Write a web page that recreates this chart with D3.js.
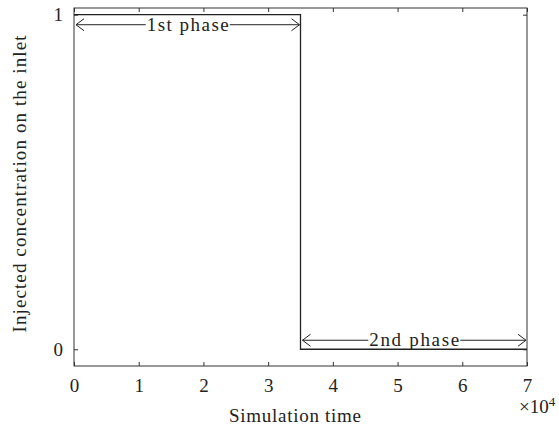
<!DOCTYPE html>
<html><head><meta charset="utf-8">
<script src="https://cdn.jsdelivr.net/npm/d3@7"></script>
<style>
html,body{margin:0;padding:0;background:#fff;}
text{font-family:"Liberation Serif","DejaVu Serif",serif;fill:#222;}
</style></head>
<body><svg id="c" width="559" height="429"></svg>
<script>
// data
const timeValues = [0, 35000, 35000, 70000];
const concValues = [1, 1, 0, 0];
const xTicks = [0, 10000, 20000, 30000, 40000, 50000, 60000, 70000];
const xTickLabels = ["0","1","2","3","4","5","6","7"];
const yTicks = [0, 1];
const yTickLabels = ["0","1"];
const phaseNames = ["1st phase", "2nd phase"];
const phaseStart = [0, 35000];
const phaseEnd = [35000, 70000];
const phaseLevel = [0.97, 0.027];

const svg = d3.select("#c");
const L = 74, R = 527, T = 8, B = 366;
const x = d3.scaleLinear().domain([0, 70000]).range([L, R]);
const y = d3.scaleLinear().domain([-0.05, 1.02]).range([B, T]);
const axisColor = "#333";
const fs = 19;

// box
svg.append("rect").attr("x", L).attr("y", T).attr("width", R - L).attr("height", B - T)
  .attr("fill", "none").attr("stroke", axisColor).attr("stroke-width", 1);

// axes
const gx = svg.append("g").attr("transform", `translate(0,${B})`)
  .call(d3.axisBottom(x).tickValues(xTicks).tickSizeInner(-4).tickSizeOuter(0)
    .tickPadding(12.5).tickFormat((d, i) => xTickLabels[i]));
const gxTop = svg.append("g").attr("transform", `translate(0,${T})`)
  .call(d3.axisTop(x).tickValues(xTicks).tickSizeInner(-4).tickSizeOuter(0).tickFormat(""));
const gy = svg.append("g").attr("transform", `translate(${L},0)`)
  .call(d3.axisLeft(y).tickValues(yTicks).tickSizeInner(-4).tickSizeOuter(0)
    .tickPadding(11).tickFormat((d, i) => yTickLabels[i]));
const gyR = svg.append("g").attr("transform", `translate(${R},0)`)
  .call(d3.axisRight(y).tickValues(yTicks).tickSizeInner(-4).tickSizeOuter(0).tickFormat(""));
[gx, gxTop, gy, gyR].forEach(g => {
  g.select(".domain").remove();
  g.selectAll("line").attr("stroke", axisColor);
  g.selectAll("text").style("font-family", '"Liberation Serif",serif').style("font-size", fs + "px").attr("fill", "#222");
});

// multiplier
const mt = svg.append("text").attr("x", 519).attr("y", 413).style("font-size", fs + "px");
mt.append("tspan").text("\u00d710");
mt.append("tspan").attr("dy", -7).style("font-size", "13px").text("4");

// axis labels
svg.append("text").attr("x", 295).attr("y", 422).attr("text-anchor", "middle")
  .attr("textLength", 132).attr("lengthAdjust", "spacing")
  .style("font-size", fs + "px").text("Simulation time");
svg.append("text").attr("transform", `translate(26,184) rotate(-90)`)
  .attr("text-anchor", "middle").attr("textLength", 297).attr("lengthAdjust", "spacing")
  .style("font-size", fs + "px").text("Injected concentration on the inlet");

// signal
const line = d3.line().x((d, i) => x(timeValues[i])).y((d, i) => y(concValues[i]));
svg.append("path").datum(timeValues).attr("d", line).attr("fill", "none")
  .attr("stroke", "#222").attr("stroke-width", 1.3);

// phase arrows
const phaseWidths = [82, 90];
phaseNames.forEach((name, i) => {
  const x0 = x(phaseStart[i]) + 2, x1 = x(phaseEnd[i]) - 1, yy = y(phaseLevel[i]);
  const cx = (x0 + x1) / 2;
  const w = phaseWidths[i];
  svg.append("text").attr("x", cx).attr("y", yy + 6).attr("text-anchor", "middle")
    .attr("textLength", w).attr("lengthAdjust", "spacing")
    .style("font-size", fs + "px").text(name);
  const g = svg.append("g").attr("stroke", "#222").attr("stroke-width", 1).attr("fill", "none");
  g.append("line").attr("x1", x0).attr("x2", cx - w / 2 - 1).attr("y1", yy).attr("y2", yy);
  g.append("line").attr("x1", cx + w / 2 + 1).attr("x2", x1).attr("y1", yy).attr("y2", yy);
  g.append("path").attr("d", `M${x0 + 8},${yy - 6} L${x0},${yy} L${x0 + 8},${yy + 6}`);
  g.append("path").attr("d", `M${x1 - 8},${yy - 6} L${x1},${yy} L${x1 - 8},${yy + 6}`);
});
</script></body></html>
